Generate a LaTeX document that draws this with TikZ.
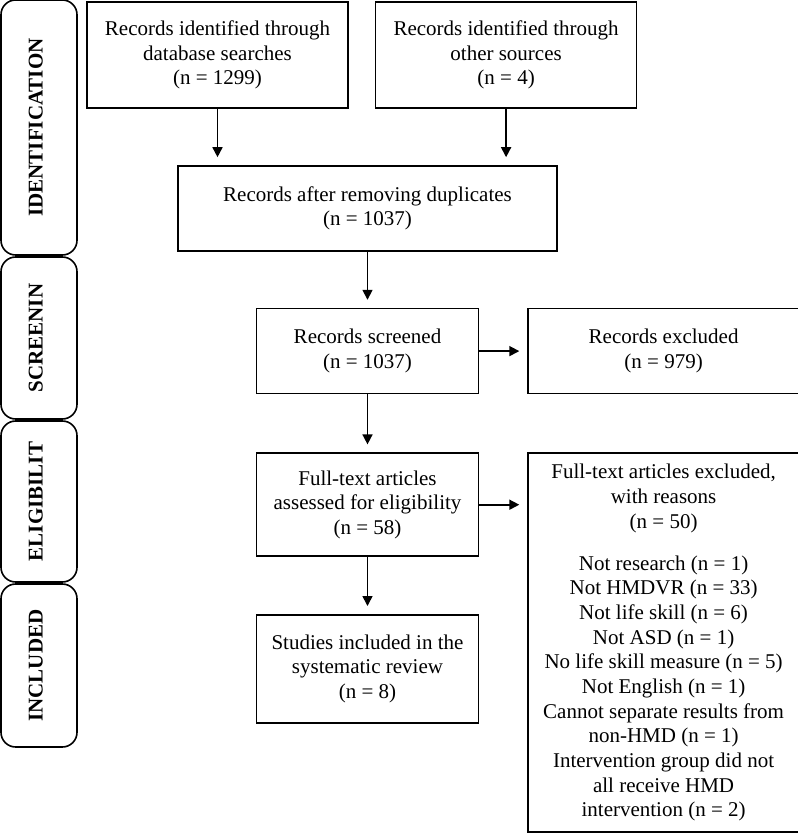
\documentclass[tikz,border=0pt]{standalone}
\usepackage{fontspec}
\setmainfont{Liberation Serif}
\usetikzlibrary{positioning, arrows.meta}

\begin{document}
\begin{tikzpicture}[x=0.75pt, y=-0.75pt,
    font=\fontsize{15.75}{18.5}\selectfont,
    box/.style={draw, line width=1.2pt, align=center, inner sep=2pt},
    tab/.style={draw, line width=1.2pt, rounded corners=11pt, rotate=90,
        font=\fontsize{15.75}{18.5}\selectfont\bfseries, minimum height=57pt, text depth=5pt},
    arr/.style={line width=1.2pt, -{Triangle[length=7.5pt, width=7.5pt]}, shorten >=6pt}]

                \useasboundingbox (0,0) rectangle (798,835);

                % phase tabs
                \node[tab, minimum width=191.25pt] (ident) at (39,127.5) {IDENTIFICATION};
                \node[tab, minimum width=121.5pt] (screen) at (39,338) {SCREENIN};
                \node[tab, minimum width=120.75pt] (elig) at (39,501.5) {ELIGIBILIT};
                \node[tab, minimum width=122.25pt] (incl) at (39,665.5) {INCLUDED};

                % flow boxes
                \node[box, minimum width=195.75pt, minimum height=79.5pt] (db) at (217.5,55) {Records identified through\\database searches\\(n = 1299)};
                \node[box, minimum width=195.75pt, minimum height=79.5pt, right=19.5pt of db] (other) {Records identified through\\other sources\\(n = 4)};
                \node[box, minimum width=284.25pt, minimum height=63.75pt] (dup) at (367.5,208.5) {Records after removing duplicates\\(n = 1037)};
                \node[box, minimum width=166.5pt, minimum height=63.75pt, below=42pt of dup] (screened) {Records screened\\(n = 1037)};
                \node[box, minimum width=203.25pt, minimum height=63.75pt, right=36pt of screened] (excl) {Records excluded\\(n = 979)};
                \node[box, minimum width=166.5pt, minimum height=77.25pt, below=43.5pt of screened] (full) {Full-text articles\\assessed for eligibility\\(n = 58)};
                \node[box, minimum width=203.25pt, minimum height=284.25pt, right=36pt of full.north east, anchor=north west] (ftexcl) {Full-text articles excluded,\\with reasons\\(n = 50)\\[13pt]Not research (n = 1)\\Not HMDVR (n = 33)\\Not life skill (n = 6)\\Not ASD (n = 1)\\No life skill measure (n = 5)\\Not English (n = 1)\\Cannot separate results from\\non-HMD (n = 1)\\Intervention group did not\\all receive HMD\\intervention (n = 2)};
                \node[box, minimum width=166.5pt, minimum height=81pt, below=42.75pt of full] (studies) {Studies included in the\\systematic review\\(n = 8)};

                \draw[arr] (db.south) -- (db.south |- dup.north);
                \draw[arr] (other.south) -- (other.south |- dup.north);
                \draw[arr] (dup) -- (screened);
                \draw[arr] (screened) -- (excl);
                \draw[arr] (screened) -- (full);
                \draw[arr] (full.east) -- (full.east -| ftexcl.west);
                \draw[arr] (full) -- (studies);
            \end{tikzpicture}
\end{document}
